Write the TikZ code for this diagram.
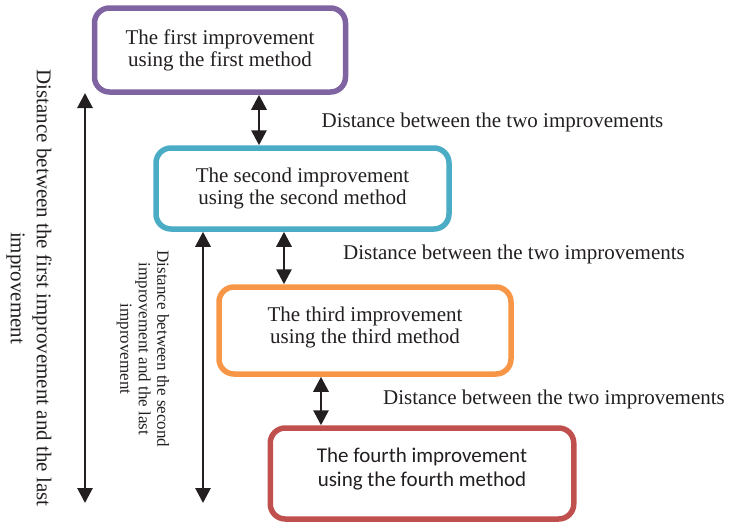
\documentclass[tikz,border=0pt]{standalone}
\usepackage{fontspec}
\setmainfont{Liberation Serif}
\newfontfamily\boxsans{Carlito}
\usetikzlibrary{arrows.meta}
\definecolor{stepPurple}{HTML}{8064A2}
\definecolor{stepTeal}{HTML}{4BACC6}
\definecolor{stepOrange}{HTML}{F79646}
\definecolor{stepRed}{HTML}{C0504D}
\definecolor{inkgray}{HTML}{231F20}
\begin{document}
\begin{tikzpicture}[x=1pt,y=-1pt,
  stepbox/.style={draw, line width=5.5pt, rounded corners=15pt, fill=white,
    align=center, text=inkgray, inner sep=0pt,
    font=\fontsize{21}{22}\selectfont},
  distlabel/.style={text=inkgray, inner sep=0pt, font=\fontsize{21}{22}\selectfont},
  dist/.style={line width=2.8pt, draw=inkgray,
    {Triangle[length=15pt,width=15pt]}-{Triangle[length=15pt,width=15pt]}},
]
\useasboundingbox (0,0) rectangle (729,525);

% improvement boxes
\node[stepbox, draw=stepPurple, minimum width=251pt, minimum height=84pt]
  (b1) at (220,50) {The first improvement\\using the first method};
\node[stepbox, draw=stepTeal, minimum width=293pt, minimum height=81pt]
  (b2) at (302.5,188.5) {The second improvement\\using the second method};
\node[stepbox, draw=stepOrange, minimum width=292pt, minimum height=87pt,
  text depth=10.6pt]
  (b3) at (365,330.5) {The third improvement\\using the third method};
\node[stepbox, draw=stepRed, minimum width=303.5pt, minimum height=91pt,
  text depth=13.3pt, font=\boxsans\fontsize{21}{24}\selectfont]
  (b4) at (422,473.5) {The fourth improvement\\using the fourth method};

% distances between neighbouring boxes
\draw[dist] (b1.south -| 259,0) -- (b2.north -| 259,0);
\draw[dist] (b2.south -| 284,0) -- (b3.north -| 284,0);
\draw[dist] (b3.south -| 321,0) -- (b4.north -| 321,0);

\node[distlabel] (d1) at (492.5,122) {Distance between the two improvements};
\node[distlabel] (d2) at (514,254) {Distance between the two improvements};
\node[distlabel] (d3) at (554,399) {Distance between the two improvements};

% overall distances
\coordinate (l1top) at (85,93);
\coordinate (l1bot) at (85,503);
\coordinate (l2bot) at (203,503);
\draw[dist] (l1top) -- (l1bot);
\draw[dist] (b2.south -| l2bot) -- (l2bot);

\node[distlabel, rotate=-90, align=center, font=\fontsize{21}{26}\selectfont]
  (t1) at (29,288) {Distance between the first improvement and the last\\improvement};
\node[distlabel, rotate=-90, align=center, font=\fontsize{17}{18.5}\selectfont]
  (t2) at (143,349) {Distance between the second\\improvement and the last\\improvement};
\end{tikzpicture}
\end{document}
